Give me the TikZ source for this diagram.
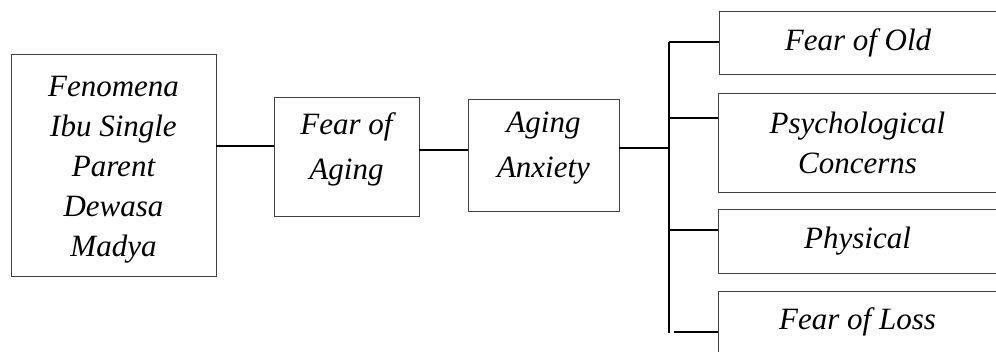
\documentclass[tikz,border=0pt]{standalone}
\usepackage{fontspec}
\setmainfont{Liberation Serif}[ItalicFont={Liberation Serif Italic}]
\begin{document}
\begin{tikzpicture}[x=1pt,y=-1pt,
  box/.style={draw=black!75, line width=0.8pt, inner sep=0pt},
  txt/.style={font=\fontsize{31}{40}\selectfont\itshape, align=center},
  wire/.style={line width=1.4pt}]
\useasboundingbox (0,0) rectangle (996,351);
\clip (0,0) rectangle (996,351);
% left chain
\node[box, minimum width=205, minimum height=222,
  label={[txt, yshift=-5]center:Fenomena\\Ibu Single\\Parent\\Dewasa\\Madya}] (fen) at (113.5,165) {};
\node[box, minimum width=145, minimum height=119,
  label={[txt, yshift=7, font=\fontsize{31}{45}\selectfont\itshape]center:Fear of\\Aging}] (fear) at (346.5,156.5) {};
\node[box, minimum width=151, minimum height=112,
  label={[txt, yshift=7, font=\fontsize{31}{45}\selectfont\itshape]center:Aging\\Anxiety}] (anx) at (543.5,155) {};
% right column
\node[box, txt, minimum width=278, minimum height=63] (old) at (858,42.5) {Fear of Old};
\node[box, txt, minimum width=279, minimum height=99] (psy) at (857.5,142.5) {Psychological\\Concerns};
\node[box, txt, minimum width=279, minimum height=64] (phy) at (857.5,241) {Physical};
\node[box, txt, minimum width=279, minimum height=62] (loss) at (857.5,322) {Fear of Loss};
% trunk
\coordinate (top) at (669,42);
\coordinate (bot) at (669,333);
\coordinate (b2) at (669,118);
\coordinate (b3) at (669,230);
\coordinate (b4) at (674,332);
\coordinate (mid) at (669,148);
\draw[wire] (top) -- (bot);
\draw[wire] (fen.east |- 0,146) -- (fear.west |- 0,146);
\draw[wire] (fear.east |- 0,150) -- (anx.west |- 0,150);
\draw[wire] (anx.east |- mid) -- (mid);
\draw[wire] (top) -- (old.west |- top);
\draw[wire] (b2) -- (b2 -| psy.west);
\draw[wire] (b3) -- (b3 -| phy.west);
\draw[wire] (b4) -- (b4 -| loss.west);
\end{tikzpicture}
\end{document}
